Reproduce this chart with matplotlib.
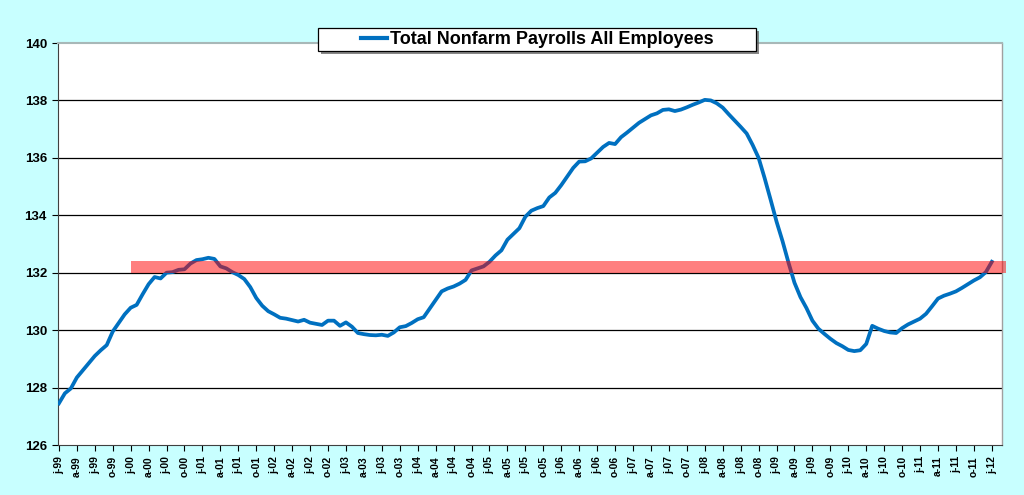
import matplotlib
matplotlib.use("Agg")
import matplotlib.pyplot as plt
from matplotlib.patches import Rectangle

# Monthly values, Jan 1999 .. Jan 2012 (millions)
payrolls_1999 = [127.45, 127.80, 127.97, 128.35, 128.60, 128.85, 129.10, 129.30, 129.48, 129.95, 130.25, 130.55]
payrolls_2000 = [130.78, 130.88, 131.25, 131.60, 131.85, 131.80, 132.00, 132.02, 132.10, 132.12, 132.32, 132.44]
payrolls_2001 = [132.47, 132.52, 132.48, 132.22, 132.15, 132.02, 131.92, 131.78, 131.50, 131.12, 130.85, 130.66]
payrolls_2002 = [130.55, 130.43, 130.40, 130.35, 130.30, 130.36, 130.26, 130.22, 130.18, 130.33, 130.33, 130.15]
payrolls_2003 = [130.27, 130.12, 129.90, 129.86, 129.83, 129.82, 129.84, 129.80, 129.92, 130.10, 130.14, 130.25]
payrolls_2004 = [130.38, 130.45, 130.75, 131.05, 131.35, 131.45, 131.52, 131.62, 131.75, 132.08, 132.15, 132.22]
payrolls_2005 = [132.38, 132.60, 132.78, 133.15, 133.35, 133.55, 133.95, 134.16, 134.25, 134.32, 134.62, 134.78]
payrolls_2006 = [135.05, 135.35, 135.65, 135.87, 135.88, 135.98, 136.18, 136.38, 136.52, 136.48, 136.72, 136.88]
payrolls_2007 = [137.05, 137.22, 137.35, 137.48, 137.55, 137.67, 137.69, 137.63, 137.68, 137.76, 137.85, 137.93]
payrolls_2008 = [138.02, 138.00, 137.90, 137.75, 137.52, 137.30, 137.08, 136.85, 136.45, 136.00, 135.30, 134.55]
payrolls_2009 = [133.78, 133.10, 132.35, 131.65, 131.15, 130.77, 130.33, 130.05, 129.87, 129.70, 129.55, 129.44]
payrolls_2010 = [129.31, 129.27, 129.30, 129.52, 130.15, 130.05, 129.97, 129.92, 129.90, 130.07, 130.20, 130.30]
payrolls_2011 = [130.40, 130.57, 130.83, 131.10, 131.20, 131.27, 131.35, 131.47, 131.60, 131.73, 131.84, 132.02]
payrolls_2012 = [132.38]

values = (payrolls_1999 + payrolls_2000 + payrolls_2001 + payrolls_2002 + payrolls_2003 +
          payrolls_2004 + payrolls_2005 + payrolls_2006 + payrolls_2007 + payrolls_2008 +
          payrolls_2009 + payrolls_2010 + payrolls_2011 + payrolls_2012)

month_letters = ["j", "a", "j", "o"]
years = list(range(1999, 2013))
tick_labels = []
for y in years:
    for m in month_letters:
        tick_labels.append(f"{m}-{y % 100:02d}")
tick_labels = tick_labels[:53]  # j-99 .. j-12

band_low, band_high = 132.0, 132.42
band_start = 12

W, H = 1024, 495
bg = "#C8FFFF"
fig = plt.figure(figsize=(W / 100, H / 100), dpi=100, facecolor=bg)
ax = fig.add_axes([58 / W, (H - 445) / H, (1002 - 58) / W, (445 - 43) / H])
ax.set_facecolor("white")

x = list(range(len(values)))
line, = ax.plot(x, values, color="#0070C0", lw=2.7, solid_joinstyle="round", zorder=3,
                label="Total Nonfarm Payrolls All Employees")

ax.add_patch(Rectangle((band_start, band_low), 158.4 - band_start, band_high - band_low,
                       facecolor="red", alpha=0.5, edgecolor="none", zorder=4, clip_on=False))

ax.set_xlim(-0.15, 157.7)
ax.set_ylim(126, 140)
ax.set_yticks(range(126, 141, 2))
ax.set_yticklabels([str(v) for v in range(126, 141, 2)], fontweight="bold",
                   fontsize=9.5, family="Liberation Sans")
ax.set_xticks(range(0, 157, 3))
ax.set_xticklabels(tick_labels, rotation=90, fontweight="bold", fontsize=7.5,
                   family="Liberation Sans")
ax.tick_params(axis="x", direction="out", length=4, width=0.8, pad=4)
ax.tick_params(axis="y", direction="out", length=4, width=0.8, pad=4)

for v in range(128, 140, 2):
    ax.axhline(v, color="black", lw=0.9, zorder=1)
ax.spines["top"].set_color("#A8B8B8")
ax.spines["top"].set_linewidth(1.5)
ax.spines["right"].set_color("#A0A0A0")
ax.spines["right"].set_linewidth(1.0)
ax.spines["left"].set_color("#404040")
ax.spines["bottom"].set_color("#404040")

# legend box with shadow (figure pixel coords)
bx0, bx1, by0, by1 = 318, 756, 28, 51
fig.patches.append(Rectangle(((bx0 + 3) / W, 1 - (by1 + 3) / H), (bx1 - bx0) / W, (by1 - by0) / H,
                             transform=fig.transFigure, facecolor="#606060", alpha=0.75,
                             edgecolor="none", zorder=8))
fig.patches.append(Rectangle((bx0 / W, 1 - by1 / H), (bx1 - bx0) / W, (by1 - by0) / H,
                             transform=fig.transFigure, facecolor="white",
                             edgecolor="black", lw=0.9, zorder=9))

leg = fig.legend(handles=[line], loc="center", bbox_to_anchor=(537.5 / W, 1 - 39.5 / H),
                 bbox_transform=fig.transFigure, frameon=False, borderpad=0,
                 handlelength=1.4, handletextpad=0.2, borderaxespad=0,
                 prop={"family": "Liberation Sans", "weight": "bold", "size": 13})
leg.set_zorder(10)
for lh in leg.get_lines():
    lh.set_linewidth(3)

fig.savefig("out.png", dpi=100, facecolor=bg)
